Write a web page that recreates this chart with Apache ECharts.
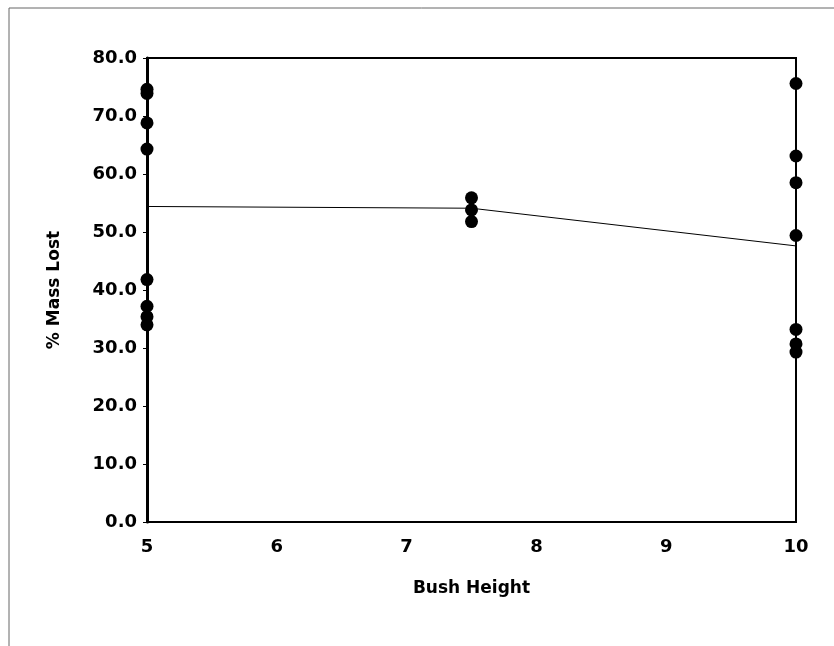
<!DOCTYPE html>
<html>
<head>
<meta charset="utf-8">
<script src="https://cdn.jsdelivr.net/npm/echarts@6/dist/echarts.min.js"></script>
<style>html,body{margin:0;padding:0;background:#fff;}#c{width:834px;height:646px;}</style>
</head>
<body>
<div id="c"></div>
<script>
var heightsA = [5, 5, 5, 5, 5, 5, 5, 5];
var massA = [74.6, 73.9, 68.8, 64.3, 41.8, 37.2, 35.4, 34.0];
var heightsB = [7.5, 7.5, 7.5];
var massB = [55.9, 53.8, 51.8];
var heightsC = [10, 10, 10, 10, 10, 10, 10];
var massC = [75.6, 63.1, 58.5, 49.4, 33.2, 30.7, 29.3];
var lineX = [5, 7.5, 10];
var lineY = [54.4, 54.1, 47.6];

function pairs(xs, ys){ return xs.map(function(x,i){ return [x, ys[i]]; }); }

var chart = echarts.init(document.getElementById('c'), null, {renderer:'canvas'});
var font = 'DejaVu Sans, Arial, sans-serif';
var dot = {color:'#000', opacity:1};
chart.setOption({
  animation: false,
  backgroundColor: '#fff',
  grid: {left:147, right:38, top:58, bottom:124, show:true, borderColor:'#000', borderWidth:2},
  xAxis: {
    type:'value', min:5, max:10, interval:1,
    name:'Bush Height', nameLocation:'middle', nameGap:58,
    nameTextStyle:{fontFamily:font, fontWeight:'bold', fontSize:17, color:'#000'},
    axisLine:{show:true, lineStyle:{color:'#000', width:2}},
    axisTick:{show:false},
    splitLine:{show:false},
    axisLabel:{fontFamily:font, fontWeight:'bold', fontSize:18, color:'#000', margin:16}
  },
  yAxis: {
    type:'value', min:0, max:80, interval:10,
    name:'% Mass Lost', nameLocation:'middle', nameGap:84, nameRotate:90,
    nameTextStyle:{fontFamily:font, fontWeight:'bold', fontSize:17, color:'#000'},
    axisLine:{show:true, lineStyle:{color:'#000', width:3}},
    axisTick:{show:true, length:4, lineStyle:{color:'#000', width:1}},
    splitLine:{show:false},
    axisLabel:{fontFamily:font, fontWeight:'bold', fontSize:18, color:'#000', margin:10,
      formatter:function(v){ return v.toFixed(1); }}
  },
  series: [
    {type:'line', data:pairs(lineX, lineY), symbol:'none', lineStyle:{color:'#000', width:1}, z:2},
    {type:'scatter', data:pairs(heightsA, massA), symbol:'circle', symbolSize:13, itemStyle:dot, z:3},
    {type:'scatter', data:pairs(heightsB, massB), symbol:'circle', symbolSize:13, itemStyle:dot, z:3},
    {type:'scatter', data:pairs(heightsC, massC), symbol:'circle', symbolSize:13, itemStyle:dot, z:3}
  ],
  graphic: [
    {type:'polyline', shape:{points:[[9,646],[9,8],[834,8]]}, style:{stroke:'#666', lineWidth:1, fill:null}}
  ]
});
</script>
</body>
</html>
